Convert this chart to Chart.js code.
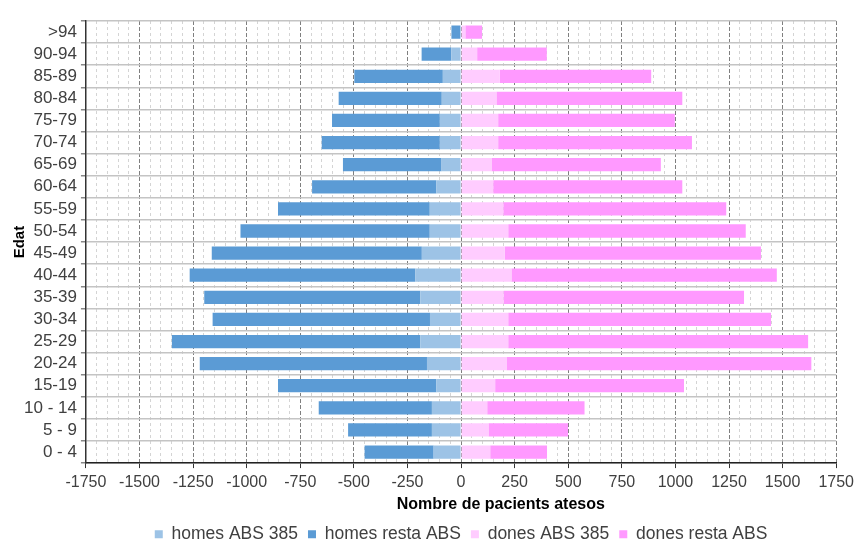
<!DOCTYPE html>
<html>
<head>
<meta charset="utf-8">
<script src="https://cdn.jsdelivr.net/npm/chart.js@4"></script>
<style>
  body { margin: 0; background: #fff; }
  #wrap { width: 859px; height: 541px; }
</style>
</head>
<body>
<div id="wrap"><canvas id="pyramid"></canvas></div>
<script>
const ageGroups = ['>94', '90-94', '85-89', '80-84', '75-79', '70-74', '65-69', '60-64', '55-59', '50-54',
  '45-49', '40-44', '35-39', '30-34', '25-29', '20-24', '15-19', '10 - 14', '5 - 9', '0 - 4'];

// homes (shown to the left, as negative values)
const homesAbs385 = [3, 46, 85, 90, 99, 99, 91, 115, 146, 146, 183, 214, 190, 145, 190, 159, 115, 136, 136, 128];
const homesRestaAbs = [42, 138, 413, 481, 503, 551, 460, 580, 708, 883, 980, 1052, 1008, 1014, 1159, 1060, 739, 528, 391, 322];

// dones
const donesAbs385 = [20, 75, 180, 165, 173, 173, 142, 150, 197, 220, 204, 235, 198, 220, 220, 212, 159, 122, 128, 136];
const donesRestaAbs = [78, 325, 707, 867, 824, 904, 790, 882, 1040, 1108, 1195, 1238, 1122, 1226, 1399, 1422, 881, 454, 371, 265];

const xMin = -1750, xMax = 1750, majorStep = 250, minorStep = 50;
const xTitle = 'Nombre de pacients atesos';

const FONT = 'Liberation Sans, Arial, sans-serif';
const isMajor = v => Math.abs(v % majorStep) < 0.001;

// x axis title sits a bit right of the plot centre in the original,
// so the scale only reserves room for it and this draws it
const xTitlePlugin = {
  id: 'xTitle',
  afterDraw(chart) {
    const { ctx, chartArea } = chart;
    ctx.save();
    ctx.font = 'bold 16px ' + FONT;
    ctx.fillStyle = '#000';
    ctx.textAlign = 'center';
    ctx.textBaseline = 'middle';
    ctx.fillText(xTitle, chartArea.left + (chartArea.right - chartArea.left) * 0.553, 505);
    ctx.restore();
  }
};

new Chart(document.getElementById('pyramid'), {
  type: 'bar',
  data: {
    labels: ageGroups,
    datasets: [
      { label: 'homes ABS 385', data: homesAbs385.map(v => -v), backgroundColor: '#9dc3e6' },
      { label: 'homes resta ABS', data: homesRestaAbs.map(v => -v), backgroundColor: '#5b9bd5' },
      { label: 'dones ABS 385', data: donesAbs385, backgroundColor: '#ffccff' },
      { label: 'dones resta ABS', data: donesRestaAbs, backgroundColor: '#ff99ff' }
    ]
  },
  options: {
    indexAxis: 'y',
    responsive: true,
    maintainAspectRatio: false,
    animation: false,
    layout: { padding: { left: 11, right: 2, top: 21, bottom: -12 } },
    datasets: { bar: { categoryPercentage: 1, barPercentage: 0.6 } },
    scales: {
      x: {
        stacked: true,
        min: xMin,
        max: xMax,
        ticks: {
          stepSize: minorStep,
          autoSkip: false,
          maxRotation: 0,
          color: '#404040',
          font: { family: FONT, size: 16 },
          padding: 5,
          callback: v => isMajor(v) ? String(v) : ''
        },
        grid: {
          color: ctx => ctx.tick && isMajor(ctx.tick.value) ? '#7f7f7f' : '#d4d4d4',
          tickColor: ctx => ctx.tick && isMajor(ctx.tick.value) ? '#333' : 'rgba(0,0,0,0)',
          tickLength: 5,
          lineWidth: 1
        },
        border: {
          display: true,
          color: '#222',
          width: 1.5,
          dash: ctx => ctx.tick && isMajor(ctx.tick.value) ? [4, 2] : [3, 3]
        },
        title: { display: true, text: '', font: { family: FONT, size: 16 }, padding: { top: 0, bottom: -1 } }
      },
      y: {
        stacked: true,
        ticks: {
          autoSkip: false,
          color: '#404040',
          font: { family: FONT, size: 17 },
          padding: 4
        },
        grid: { color: '#c4c4c4', lineWidth: 1.5, tickLength: 5, tickColor: '#888' },
        border: { display: true, color: '#333', width: 1.5 },
        title: {
          display: true,
          text: 'Edat',
          color: '#000',
          font: { family: FONT, size: 15, weight: 'bold' },
          padding: { top: 0, bottom: -9 }
        }
      }
    },
    plugins: {
      legend: {
        position: 'bottom',
        fullSize: false,
        labels: {
          boxWidth: 8,
          boxHeight: 8,
          color: '#404040',
          padding: 10,
          font: { family: FONT, size: 17.5 }
        }
      },
      tooltip: { enabled: false }
    }
  },
  plugins: [xTitlePlugin]
});
</script>
</body>
</html>
